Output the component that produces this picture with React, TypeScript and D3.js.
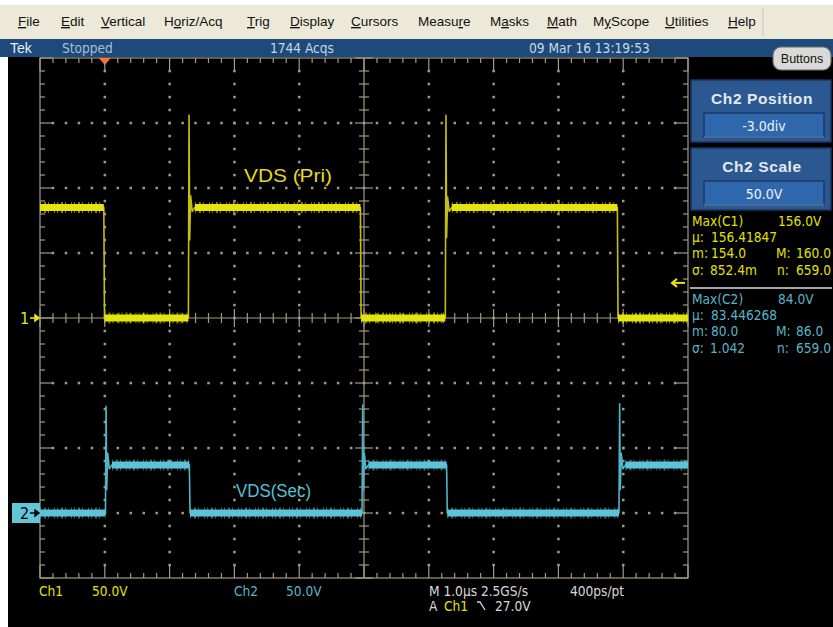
import React from 'react';
import * as d3 from 'd3';

// values
const menuItems = ['File', 'Edit', 'Vertical', 'Horiz/Acq', 'Trig', 'Display', 'Cursors', 'Measure', 'Masks', 'Math', 'MyScope', 'Utilities', 'Help'];
const menuKeys = [0, 0, 0, 1, 0, 0, 0, 5, 1, 0, 1, 0, 0];

const chScale = [50, 50]; // V/div
const chPos = [0, -3]; // div
const chLabels = ['VDS (Pri)', 'VDS(Sec)'];

// time in µs (1 µs/div, centre = 0), voltage in V
const ch1Time = [-5, -4.015, -4.005, -2.71, -2.7, -2.69, -2.675, -2.65, -2.61, -0.055, -0.045, 1.255, 1.265, 1.275, 1.29, 1.315, 1.355, 3.91, 3.92, 5];
const ch1Volts = [85, 85, 0, 0, 156, 60, 94, 82, 85, 85, 0, 0, 156, 62, 93, 82, 85, 85, 0, 0];
const ch2Time = [-5, -3.99, -3.98, -3.97, -3.955, -3.93, -3.89, -2.695, -2.685, -0.03, -0.02, -0.01, 0.005, 0.03, 0.07, 1.275, 1.285, 3.935, 3.945, 3.955, 3.97, 3.995, 4.035, 5];
const ch2Volts = [0, 0, 82, 18, 46, 34, 37, 37, 0, 0, 83, 18, 46, 34, 37, 37, 0, 0, 84, 18, 46, 34, 37, 37];

const measNames = ['Max(C1)', 'Max(C2)'];
const measValues = ['156.0V', '84.0V'];
const measMean = ['156.41847', '83.446268'];
const measMin = ['154.0', '80.0'];
const measMax = ['160.0', '86.0'];
const measSd = ['852.4m', '1.042'];
const measN = ['659.0', '659.0'];

const triggerTime = -4.0;
const triggerLevel = 27; // V on Ch1

// layout
const W = 833;
const H = 627;
const menuX = [18, 61, 101, 164, 247, 290, 351, 418, 490, 547, 593, 665, 728];
const narrow = "'Liberation Sans Narrow', 'DejaVu Sans Condensed', sans-serif";
const sans = "'Liberation Sans', Arial, sans-serif";
const YEL = '#e6e410';
const CYA = '#5cc4d6';
const GRID = '#a39a84';

const xDiv = d3.scaleLinear().domain([0, 10]).range([40, 688]);
const yDiv = d3.scaleLinear().domain([0, 8]).range([58, 578]);
const xTime = d3.scaleLinear().domain([-5, 5]).range([40, 688]);
const yCh = chScale.map((s, i) =>
  d3.scaleLinear().domain([(-4 - chPos[i]) * s, (4 - chPos[i]) * s]).range([578, 58]),
);

const subX = d3.range(0, 51).map((i) => i / 5);
const subY = d3.range(0, 41).map((i) => i / 5);
const isMajor = (v: number) => Math.abs(v - Math.round(v)) < 1e-6;

// flat parts of a trace get the thick noisy band
function bands(t: number[], v: number[]) {
  const out: [number, number, number][] = [];
  for (let i = 0; i < t.length - 1; i++) {
    if (v[i] === v[i + 1] && t[i + 1] - t[i] > 0.2) out.push([t[i], t[i + 1], v[i]]);
  }
  return out;
}

const Trace: React.FC<{ t: number[]; v: number[]; ch: number; color: string; edge: string }> = ({ t, v, ch, color, edge }) => {
  const y = yCh[ch];
  const path = d3.line<number>().x((d, i) => xTime(t[i])).y((d) => y(d))(v) || '';
  return (
    <g>
      <path d={path} fill="none" stroke={edge} strokeWidth={1.6} strokeLinejoin="round" />
      {bands(t, v).map(([a, b, val], i) => (
        <g key={i}>
          <line x1={xTime(a)} x2={xTime(b)} y1={y(val)} y2={y(val)} stroke={color} strokeWidth={11} strokeDasharray="1 3 2 2 1 5 1 2" opacity={0.55} />
          <line x1={xTime(a)} x2={xTime(b)} y1={y(val)} y2={y(val)} stroke={color} strokeWidth={7} />
        </g>
      ))}
    </g>
  );
};

const Graticule: React.FC = () => {
  const x0 = xDiv(0), x1 = xDiv(10), y0 = yDiv(0), y1 = yDiv(8);
  const cx = xDiv(5), cy = yDiv(4);
  const dots: JSX.Element[] = [];
  d3.range(1, 10).filter((i) => i !== 5).forEach((i) =>
    subY.slice(1, -1).forEach((s, k) => dots.push(<rect key={`v${i}-${k}`} x={xDiv(i) - 0.6} y={yDiv(s) - 0.6} width={1.3} height={1.3} fill={GRID} />)),
  );
  d3.range(1, 8).filter((j) => j !== 4).forEach((j) =>
    subX.slice(1, -1).forEach((s, k) => dots.push(<rect key={`h${j}-${k}`} x={xDiv(s) - 0.6} y={yDiv(j) - 0.6} width={1.3} height={1.3} fill={GRID} />)),
  );
  return (
    <g stroke={GRID} strokeWidth={1.2}>
      {dots}
      <rect x={x0} y={y0} width={x1 - x0} height={y1 - y0} fill="none" />
      <line x1={cx} x2={cx} y1={y0} y2={y1} />
      <line x1={x0} x2={x1} y1={cy} y2={cy} />
      {subX.map((s, i) => {
        const L = isMajor(s) ? 13 : 5;
        const c = isMajor(s) ? 9 : 5;
        return (
          <g key={`sx${i}`}>
            <line x1={xDiv(s)} x2={xDiv(s)} y1={y1} y2={y1 - L} />
            <line x1={xDiv(s)} x2={xDiv(s)} y1={y0} y2={y0 + L} />
            <line x1={xDiv(s)} x2={xDiv(s)} y1={cy - c} y2={cy + c} />
          </g>
        );
      })}
      {subY.map((s, i) => {
        const L = isMajor(s) ? 13 : 5;
        const c = isMajor(s) ? 9 : 5;
        return (
          <g key={`sy${i}`}>
            <line x1={x0} x2={x0 + L} y1={yDiv(s)} y2={yDiv(s)} />
            <line x1={x1} x2={x1 - L} y1={yDiv(s)} y2={yDiv(s)} />
            <line x1={cx - c} x2={cx + c} y1={yDiv(s)} y2={yDiv(s)} />
          </g>
        );
      })}
    </g>
  );
};

const Panel: React.FC<{ y: number; title: string; value: string }> = ({ y, title, value }) => (
  <g>
    <rect x={691} y={y} width={140} height={62} fill="#2b5891" stroke="#17365e" strokeWidth={1.5} />
    <text x={762} y={y + 24} textAnchor="middle" fill="#e4e9ef" fontFamily={sans} fontWeight="bold" fontSize={15.5} letterSpacing={0.6}>{title}</text>
    <rect x={704} y={y + 33} width={120} height={24} fill="#2f67ad" stroke="#1b3a66" strokeWidth={1.5} />
    <line x1={704} x2={824} y1={y + 57} y2={y + 57} stroke="#6c93c4" strokeWidth={1.2} />
    <text x={764} y={y + 50.5} textAnchor="middle" fill="#eef2f6" fontFamily={narrow} fontSize={14}>{value}</text>
  </g>
);

const Measurements: React.FC<{ i: number; y: number; color: string }> = ({ i, y, color }) => (
  <g fill={color} fontFamily={narrow} fontSize={13.6}>
    <text x={692} y={y}>{measNames[i]}</text>
    <text x={778} y={y}>{measValues[i]}</text>
    <text x={692} y={y + 16}>μ:</text>
    <text x={711} y={y + 16}>{measMean[i]}</text>
    <text x={692} y={y + 32}>m:</text>
    <text x={711} y={y + 32}>{measMin[i]}</text>
    <text x={776} y={y + 32}>M:</text>
    <text x={796} y={y + 32}>{measMax[i]}</text>
    <text x={692} y={y + 49}>σ:</text>
    <text x={710} y={y + 49}>{measSd[i]}</text>
    <text x={777} y={y + 49}>n:</text>
    <text x={796} y={y + 49}>{measN[i]}</text>
  </g>
);

export default function App() {
  const trigX = xTime(triggerTime);
  const trigY = yCh[0](triggerLevel);
  const gnd1 = yCh[0](0);
  const gnd2 = yCh[1](0);
  return (
    <svg width={W} height={H} style={{ display: 'block', position: 'absolute', left: 0, top: 0 }}>
      <rect width={W} height={H} fill="#ffffff" />
      {/* menu bar */}
      <rect x={0} y={5} width={W} height={34} fill="#ece9d8" />
      <line x1={763} x2={763} y1={8} y2={36} stroke="#c9c5b4" />
      <g fontFamily={sans} fontSize={13.5} fill="#111">
        {menuItems.map((m, i) => (
          <text key={m} x={menuX[i]} y={26}>
            {m.slice(0, menuKeys[i])}
            <tspan textDecoration="underline">{m[menuKeys[i]]}</tspan>
            {m.slice(menuKeys[i] + 1)}
          </text>
        ))}
      </g>
      {/* status bar */}
      <rect x={0} y={39} width={W} height={18} fill="#1d4a7b" />
      <g fontFamily={narrow} fontSize={13.6}>
        <text x={10} y={53} fill="#e9eef4" fontFamily={sans} fontSize={14}>Tek</text>
        <text x={62} y={53} fill="#a9bfd6">Stopped</text>
        <text x={270} y={53} fill="#c9d6e4">1744 Acqs</text>
        <text x={529} y={53} fill="#c9d6e4">09 Mar 16 13:19:53</text>
      </g>
      {/* screen */}
      <rect x={8} y={57} width={W - 8} height={H - 57} fill="#000" />
      <rect x={773} y={47} width={58} height={23} rx={8} fill="#d9d9d6" stroke="#6d6d6d" strokeWidth={1.2} />
      <text x={802} y={63} textAnchor="middle" fontFamily={sans} fontSize={12.5} fill="#111">Buttons</text>

      <Graticule />
      <Trace t={ch1Time} v={ch1Volts} ch={0} color={YEL} edge="#c4bd12" />
      <Trace t={ch2Time} v={ch2Volts} ch={1} color={CYA} edge="#4fb4c6" />

      <text x={244} y={182} fill="#e8d81e" fontFamily={sans} fontSize={18} textLength={88} lengthAdjust="spacingAndGlyphs">{chLabels[0]}</text>
      <text x={236} y={497} fill="#52c2d4" fontFamily={sans} fontSize={18} textLength={75} lengthAdjust="spacingAndGlyphs">{chLabels[1]}</text>

      {/* trigger position and level */}
      <path d={`M${trigX - 6},58 L${trigX + 6},58 L${trigX},65 Z`} fill="#f07a3a" />
      <g stroke={YEL} strokeWidth={2} fill="none">
        <line x1={673} x2={685} y1={trigY} y2={trigY} />
        <path d={`M677,${trigY - 4} L672,${trigY} L677,${trigY + 4}`} />
      </g>

      {/* channel ground markers */}
      <text x={20} y={gnd1 + 6} fill={YEL} fontFamily={narrow} fontSize={16}>1</text>
      <g stroke={YEL} strokeWidth={1.6} fill={YEL}>
        <line x1={30} x2={36} y1={gnd1} y2={gnd1} />
        <path d={`M35,${gnd1 - 3} L39,${gnd1} L35,${gnd1 + 3} Z`} />
      </g>
      <rect x={12} y={gnd2 - 10} width={28} height={20} fill="#62c6d8" />
      <text x={20} y={gnd2 + 6} fill="#000" fontFamily={narrow} fontSize={16}>2</text>
      <g stroke="#000" strokeWidth={1.4} fill="#000">
        <line x1={30} x2={36} y1={gnd2} y2={gnd2} />
        <path d={`M35,${gnd2 - 3} L39,${gnd2} L35,${gnd2 + 3} Z`} />
      </g>

      {/* right side */}
      <Panel y={80} title="Ch2 Position" value="-3.0div" />
      <Panel y={148} title="Ch2 Scale" value="50.0V" />
      <Measurements i={0} y={226} color="#e2e200" />
      <line x1={690} x2={832} y1={288} y2={288} stroke="#a6a6a6" strokeWidth={2} />
      <Measurements i={1} y={304} color="#5ab4c9" />

      {/* readouts under the graticule */}
      <g fontFamily={narrow} fontSize={13.6}>
        <text x={39} y={596} fill="#e2e200">Ch1</text>
        <text x={92} y={596} fill="#e2e200">{`${chScale[0].toFixed(1)}V`}</text>
        <text x={234} y={596} fill="#5ab4c9">Ch2</text>
        <text x={286} y={596} fill="#5ab4c9">{`${chScale[1].toFixed(1)}V`}</text>
        <text x={429} y={596} fill="#d8d8d8">M 1.0µs 2.5GS/s</text>
        <text x={570} y={596} fill="#d8d8d8">400ps/pt</text>
        <text x={429} y={611} fill="#d8d8d8">A</text>
        <text x={444} y={611} fill="#e2e200">Ch1</text>
        <text x={495} y={611} fill="#d8d8d8">{`${triggerLevel.toFixed(1)}V`}</text>
      </g>
      <path d="M477,602 L480,602 L485,610" stroke="#d8d8d8" strokeWidth={1.3} fill="none" />
    </svg>
  );
}
